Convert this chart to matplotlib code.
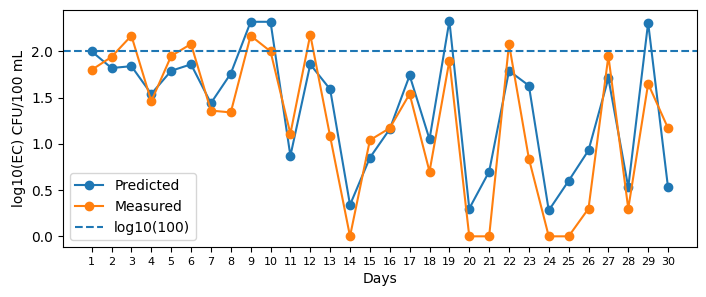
import matplotlib
matplotlib.use("Agg")
import matplotlib.pyplot as plt

days = list(range(1, 31))

predicted = [2.00, 1.82, 1.84, 1.54, 1.79, 1.86, 1.44, 1.76, 2.32, 2.32,
             0.87, 1.86, 1.59, 0.34, 0.85, 1.16, 1.74, 1.05, 2.33, 0.30,
             0.70, 1.79, 1.63, 0.28, 0.60, 0.93, 1.71, 0.53, 2.31, 0.53]

measured = [1.80, 1.94, 2.17, 1.46, 1.95, 2.08, 1.36, 1.34, 2.17, 2.00,
            1.11, 2.18, 1.08, 0.00, 1.04, 1.17, 1.54, 0.70, 1.90, 0.00,
            0.00, 2.08, 0.84, 0.00, 0.00, 0.30, 1.95, 0.30, 1.65, 1.17]

threshold = 2.0

fig, ax = plt.subplots(figsize=(7.06, 2.97), dpi=100)
fig.subplots_adjust(left=0.089, right=0.987, bottom=0.168, top=0.966)

ax.plot(days, predicted, marker='o', label='Predicted')
ax.plot(days, measured, marker='o', label='Measured')
ax.axhline(threshold, linestyle='--', label='log10(100)')

ax.set_xticks(days)
ax.set_xticklabels([str(d) for d in days], fontsize=8)
ax.set_xlabel('Days')
ax.set_ylabel('log10(EC) CFU/100 mL')
ax.legend(loc='lower left')

fig.savefig('out.png', dpi=100)
